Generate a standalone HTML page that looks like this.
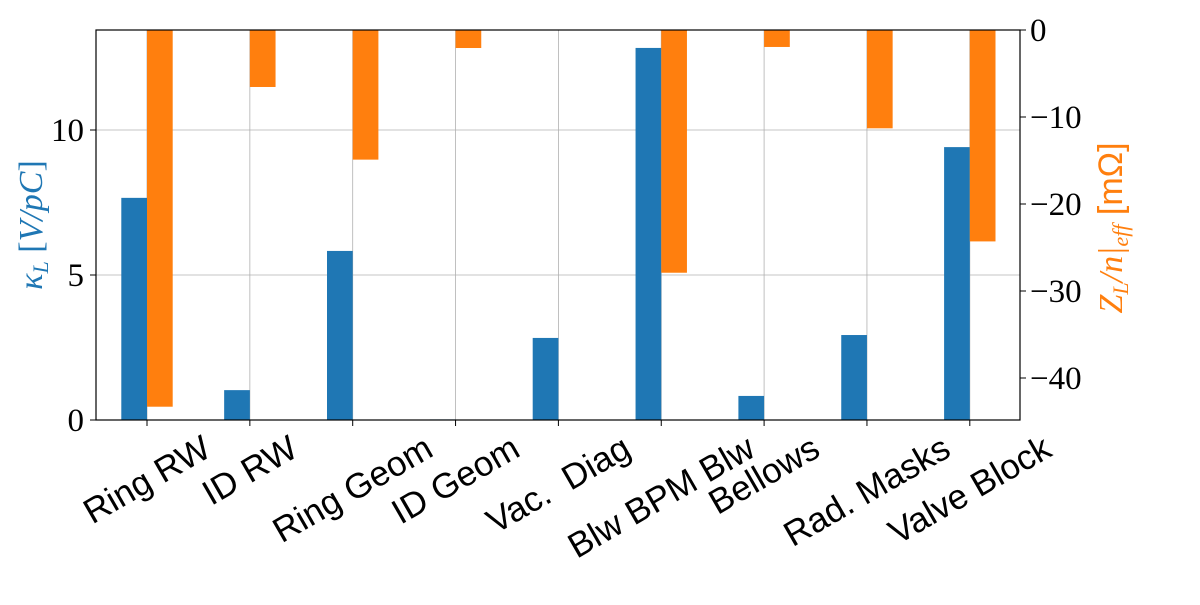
<!DOCTYPE html>
<html><head><meta charset="utf-8"><style>
body{margin:0;background:#fff;width:1200px;height:600px;overflow:hidden}
svg text{font-family:"Liberation Serif",serif}
</style></head><body>
<svg id="chart" width="1200" height="600" xmlns="http://www.w3.org/2000/svg"></svg>
<script>
const categories=["Ring RW","ID RW","Ring Geom","ID Geom","Vac.  Diag","Blw BPM Blw","Bellows","Rad. Masks","Valve Block"];
const kappaValues=[7.66,1.03,5.83,0.02,2.83,12.83,0.83,2.93,9.41];
const zValues=[-43.3,-6.55,-14.9,-2.07,0,-27.9,-1.95,-11.3,-24.3];
const leftTicks=[0,5,10];
const rightTicks=[0,-10,-20,-30,-40];
const L=96,R=1020,T=30,B=420;
const yL=v=>B-v*29.0;
const yR=v=>T-v*8.7;
const xC=i=>147+i*102.85;
const bw=25.7;
const svg=document.getElementById('chart');
const NS='http://www.w3.org/2000/svg';
function mk(tag,attrs,parent){const e=document.createElementNS(NS,tag);for(const k in attrs)e.setAttribute(k,attrs[k]);(parent||svg).appendChild(e);return e;}
leftTicks.forEach(v=>{const g=mk('line',{x1:L,x2:R,y1:yL(v),y2:yL(v),stroke:'#b0b0b0','stroke-width':0.8});

});
categories.forEach((c,i)=>{const g=mk('line',{x1:xC(i),x2:xC(i),y1:T,y2:B,stroke:'#b0b0b0','stroke-width':0.8});

});
categories.forEach((c,i)=>{
const v=kappaValues[i];const b=mk('rect',{x:xC(i)-bw,y:yL(v),width:bw,height:B-yL(v),fill:'#1f77b4'});


const z=zValues[i];const o=mk('rect',{x:xC(i),y:T,width:bw,height:yR(z)-T,fill:'#ff7f0e'});


});
const fr=mk('rect',{x:L,y:T,width:R-L,height:B-T,fill:'none',stroke:'#000','stroke-width':1.2});


leftTicks.forEach(v=>{mk('line',{x1:L-6,x2:L,y1:yL(v),y2:yL(v),stroke:'#000'});
const t=mk('text',{x:L-12,y:yL(v)+11,'text-anchor':'end','font-size':33});t.textContent=v;

});
rightTicks.forEach(v=>{mk('line',{x1:R,x2:R+6,y1:yR(v),y2:yR(v),stroke:'#000'});
const t=mk('text',{x:R+10,y:yR(v)+11,'font-size':33});t.textContent=v===0?'0':'\u2212'+Math.abs(v);

});
categories.forEach((c,i)=>{mk('line',{x1:xC(i),x2:xC(i),y1:B,y2:B+6,stroke:'#000'});
const t=mk('text',{x:0,y:0,'text-anchor':'middle','dominant-baseline':'central','font-size':35,style:'font-family:"Liberation Sans",sans-serif;white-space:pre'});
t.textContent=c;


const w=t.getComputedTextLength();const h=30;
const bh=w*0.5+h*0.866;
t.setAttribute('transform',`translate(${xC(i)},${B+12+bh/2}) rotate(-30)`);
});
const yl=mk('text',{x:0,y:0,'text-anchor':'middle','font-size':34,fill:'#1f77b4','font-style':'italic',transform:'translate(42,225) rotate(-90)'});
yl.innerHTML='κ<tspan font-size="22" dy="6">L</tspan><tspan dy="-6" font-style="normal"> [</tspan>V/pC<tspan font-style="normal">]</tspan>';


const yr=mk('text',{x:0,y:0,'text-anchor':'middle','font-size':34,fill:'#ff7f0e','font-style':'italic',transform:'translate(1122,228) rotate(-90)'});
yr.innerHTML='Z<tspan font-size="22" dy="6">L</tspan><tspan dy="-6">/n|</tspan><tspan font-size="22" dy="6">eff</tspan><tspan dy="-6" font-style="normal" style="font-family:Liberation Sans,sans-serif"> [mΩ]</tspan>';


</script>
</body></html>
